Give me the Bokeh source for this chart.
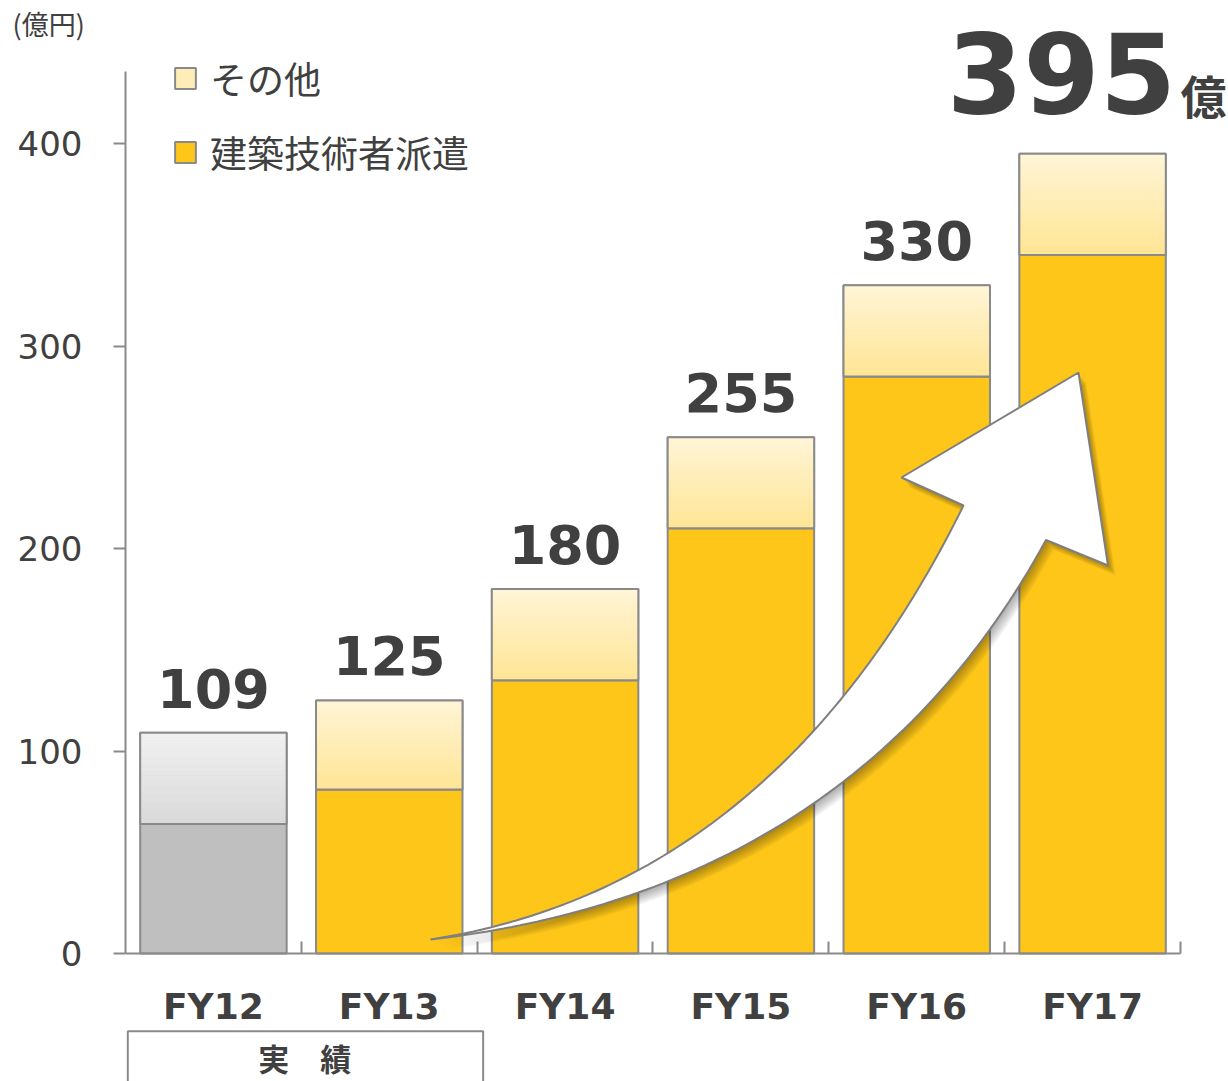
import numpy as np
from bokeh.plotting import figure
from bokeh.models import (ColumnDataSource, Range1d, FixedTicker, Legend, LegendItem)
from bokeh.core.properties import value
from bokeh.embed import file_html
from bokeh.resources import INLINE

# ---------------- data ----------------
categories = ["FY12", "FY13", "FY14", "FY15", "FY16", "FY17"]
dispatch = [64, 81, 135, 210, 285, 345]      # 建築技術者派遣
others = [45, 44, 45, 45, 45, 50]            # その他
totals = [109, 125, 180, 255, 330, 395]
y_ticks = [0, 100, 200, 300, 400]
series_names = ["その他", "建築技術者派遣"]
unit_label = "(億円)"
actual_label = "実\u3000績"
big_unit = "億"

# ---------------- styles ----------------
TXT = "#404040"
AXC = "#8a8a8a"
YEL = "#FDC619"
GRAY = "#BFBFBF"
TOP_YEL = "#FFEDB8"
TOP_GRAY = "#E6E6E6"
grad_yellow = ((255, 245, 216), (255, 229, 148))   # top, bottom
grad_gray = ((241, 241, 241), (217, 217, 217))
BW = 0.833
JP = "Noto Sans CJK JP"

xs = list(range(len(categories)))
bot_colors = [GRAY if i == 0 else YEL for i in xs]
top_colors = [TOP_GRAY if i == 0 else TOP_YEL for i in xs]

src = ColumnDataSource(dict(x=xs, cat=categories, dispatch=dispatch, others=others,
                            total=totals, bc=bot_colors, tc=top_colors))

p = figure(width=1228, height=1081, output_backend="svg", toolbar_location=None,
           x_range=Range1d(-1.2109, 5.7730), y_range=Range1d(-63.21, 470.62),
           min_border_left=0, min_border_right=0, min_border_top=0, min_border_bottom=0)
p.outline_line_color = None
p.grid.visible = False
p.background_fill_color = "white"

# bars
r_bot = p.vbar(x="x", bottom=0, top="dispatch", width=BW, source=src,
               fill_color="bc", line_color=AXC, line_width=2)
r_top = p.vbar(x="x", bottom="dispatch", top="total", width=BW, source=src,
               fill_color="tc", line_color=AXC, line_width=2)

# vertical gradient on the upper segment (decoration derived from the data)
N = 24
bx, bb, bt, bcol = [], [], [], []
for i in xs:
    lo, hi = dispatch[i], totals[i]
    ct, cb = grad_gray if i == 0 else grad_yellow
    for k in range(N):
        f = (k + 0.5) / N
        bx.append(i)
        bb.append(lo + (hi - lo) * k / N)
        bt.append(lo + (hi - lo) * (k + 1) / N)
        col = tuple(int(round(cb[j] + (ct[j] - cb[j]) * f)) for j in range(3))
        bcol.append("#%02x%02x%02x" % col)
p.vbar(x=bx, bottom=bb, top=bt, width=BW, fill_color=bcol, line_color=bcol, line_width=0.6)
p.vbar(x="x", bottom="dispatch", top="total", width=BW, source=src,
       fill_alpha=0, line_color=AXC, line_width=2)

# ---------------- growth arrow (decoration) ----------------
def cubic(p0, p1, p2, p3, n=80):
    t = np.linspace(0, 1, n)[:, None]
    p0, p1, p2, p3 = map(np.array, (p0, p1, p2, p3))
    return (1 - t) ** 3 * p0 + 3 * (1 - t) ** 2 * t * p1 + 3 * (1 - t) * t ** 2 * p2 + t ** 3 * p3

tail = (1.2346, 6.91)
upper = cubic(tail, (2.5427, 24.54), (3.5533, 95.80), (4.2659, 221.23))
head = np.array([(3.9133, 235.06), (4.9199, 286.91), (5.0877, 191.60)])
lower = cubic(tail, (2.4289, 18.77), (3.8507, 63.21), (4.7351, 204.20))[::-1]
arrow = np.vstack([upper, head, lower])
for k in range(1, 9):
    p.patch(arrow[:, 0] + 0.0055 * k, arrow[:, 1] - 0.62 * k, fill_color="black",
            fill_alpha=0.045, line_alpha=0)
p.patch(arrow[:, 0], arrow[:, 1], fill_color="white", line_color="#7f7f7f", line_width=2)

# ---------------- value labels ----------------
PXU = 2.025  # pixels per unit on the y scale
lab_src = ColumnDataSource(dict(x=xs[:-1], y=[t + 44.5 / PXU for t in totals[:-1]],
                                t=[str(v) for v in totals[:-1]]))
p.text(x="x", y="y", text="t", source=lab_src, text_align="center", text_baseline="alphabetic",
       text_font=value("DejaVu Sans"), text_font_style="bold",
       text_font_size="54px", text_color=TXT)
p.text(x=[xs[-1]], y=[totals[-1] + 81.0 / PXU], text=[str(totals[-1])], text_align="center",
       text_baseline="alphabetic", x_offset=-31,
       text_font=value("DejaVu Sans"), text_font_style="bold", text_font_size="110px", text_color=TXT)
p.text(x=[xs[-1]], y=[totals[-1] + 59.6 / PXU], text=[big_unit], text_align="left",
       text_baseline="alphabetic", x_offset=88,
       text_font=value(JP), text_font_style="bold", text_font_size="46px", text_color=TXT)

# unit label at top-left
p.text(x=[-1.142], y=[459.3], text=[unit_label], text_align="left", text_baseline="middle",
       text_font=value(JP), text_font_size="27px", text_color=TXT)

# ---------------- 実績 box ----------------
p.quad(left=[-0.487], right=[1.534], top=[-38.4], bottom=[-90], fill_alpha=0,
       line_color=AXC, line_width=2)
p.text(x=[0.52], y=[-51.6], text=[actual_label], text_align="center", text_baseline="middle",
       text_font=value(JP), text_font_style="bold", text_font_size="31px", text_color=TXT)

# ---------------- axes ----------------
ya = p.yaxis[0]
ya.fixed_location = -0.5
ya.ticker = FixedTicker(ticks=y_ticks)
ya.bounds = (0, 435.6)
ya.axis_line_color = AXC
ya.axis_line_width = 2
ya.major_tick_line_color = AXC
ya.major_tick_line_width = 2
ya.major_tick_out = 12
ya.major_tick_in = 0
ya.minor_tick_line_color = None
ya.major_label_standoff = 31
ya.major_label_text_font = "DejaVu Sans"
ya.major_label_text_font_size = "34px"
ya.major_label_text_color = TXT

xa = p.xaxis[0]
xa.fixed_location = 0
xa.bounds = (-0.5, 5.5)
xa.ticker = FixedTicker(ticks=xs, minor_ticks=[i + 0.5 for i in xs])
xa.major_label_overrides = {i: c for i, c in enumerate(categories)}
xa.axis_line_color = AXC
xa.axis_line_width = 2
xa.major_tick_line_color = None
xa.major_tick_out = 0
xa.major_tick_in = 0
xa.minor_tick_line_color = AXC
xa.minor_tick_line_width = 2
xa.minor_tick_in = 12
xa.minor_tick_out = 0
xa.major_label_standoff = 32
xa.major_label_text_font = "DejaVu Sans"
xa.major_label_text_font_style = "bold"
xa.major_label_text_font_size = "36px"
xa.major_label_text_color = TXT

# ---------------- legend ----------------
legend = Legend(items=[LegendItem(label=series_names[0], renderers=[r_top], index=1),
                       LegendItem(label=series_names[1], renderers=[r_bot], index=1)],
                location=(172, 902), orientation="vertical",
                glyph_width=26, glyph_height=26, label_standoff=12, spacing=20,
                padding=0, margin=0, label_height=24,
                label_text_font=JP, label_text_font_size="37px", label_text_color=TXT,
                background_fill_alpha=0, border_line_alpha=0)
p.add_layout(legend)

open("out.html", "w").write(file_html(p, INLINE))
